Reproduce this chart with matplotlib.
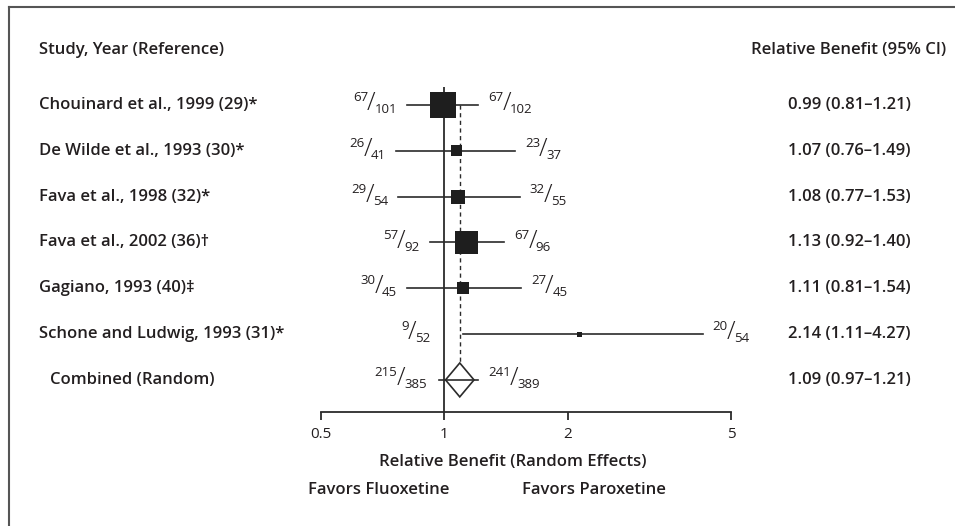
import numpy as np
import matplotlib
matplotlib.use("Agg")
import matplotlib.pyplot as plt
from matplotlib.lines import Line2D
from matplotlib.offsetbox import TextArea, HPacker, AnnotationBbox

# ---- data ----
studies = [
    "Chouinard et al., 1999 (29)*",
    "De Wilde et al., 1993 (30)*",
    "Fava et al., 1998 (32)*",
    "Fava et al., 2002 (36)\u2020",
    "Gagiano, 1993 (40)\u2021",
    "Schone and Ludwig, 1993 (31)*",
]
rb = [0.99, 1.07, 1.08, 1.13, 1.11, 2.14]
ci_lo = [0.81, 0.76, 0.77, 0.92, 0.81, 1.11]
ci_hi = [1.21, 1.49, 1.53, 1.40, 1.54, 4.27]
weights = [40.0, 7.2, 11.6, 31.3, 8.5, 1.5]
flu_events = [67, 26, 29, 57, 30, 9]
flu_total = [101, 41, 54, 92, 45, 52]
par_events = [67, 23, 32, 67, 27, 20]
par_total = [102, 37, 55, 96, 45, 54]

pooled_label = "Combined (Random)"
pooled_rb, pooled_lo, pooled_hi = 1.09, 0.97, 1.21
pooled_flu = (215, 385)
pooled_par = (241, 389)

xticks = [0.5, 1, 2, 5]
xtick_labels = ["0.5", "1", "2", "5"]

TXT = "#231f20"
LINE = "#2b2b2b"

plt.rcParams["font.family"] = ["Open Sans", "DejaVu Sans"]

fig = plt.figure(figsize=(9.55, 5.26), dpi=100)
W, H = 955, 526


def fx(px):
    return px / W


def fy(py):
    return 1 - py / H


# plot area: x log 0.5..5 at px 321..731, y from 87 (top) to 412 (axis)
ax = fig.add_axes([fx(321), fy(412), fx(731) - fx(321), fy(87) - fy(412)])
ax.set_xscale("log")
ax.set_xlim(0.5, 5)
ax.set_ylim(6.70, -0.39)
ax.patch.set_alpha(0)
for s in ["top", "right", "left"]:
    ax.spines[s].set_visible(False)
ax.spines["bottom"].set_color(LINE)
ax.spines["bottom"].set_linewidth(1.3)
ax.set_yticks([])
ax.set_xticks(xticks)
ax.set_xticklabels(xtick_labels)
ax.xaxis.set_minor_locator(matplotlib.ticker.NullLocator())
ax.tick_params(axis="x", direction="out", length=6, width=1.3, color=LINE,
               labelsize=11, labelcolor=TXT, pad=5)

# reference lines
ax.axvline(1, color=LINE, lw=1.3, zorder=1)
diamond_h = 0.37
ax.plot([pooled_rb, pooled_rb], [0, 6 - diamond_h], color=LINE, lw=1.0,
        ls=(0, (3, 2.5)), zorder=1)

ys = np.arange(len(studies))
for i, y in enumerate(ys):
    ax.plot([ci_lo[i], ci_hi[i]], [y, y], color=LINE, lw=1.2, zorder=2)
    side = 2.96 * np.sqrt(weights[i])
    ax.scatter([rb[i]], [y], marker="s", s=side ** 2, color="#1e1e1e",
               edgecolors="none", zorder=3)

# pooled diamond
yp = len(studies)
hw = 0.08
dx = [pooled_rb * np.exp(-hw), pooled_rb, pooled_rb * np.exp(hw), pooled_rb]
dy = [yp, yp - diamond_h, yp, yp + diamond_h]
ax.fill(dx, dy, facecolor="white", edgecolor=LINE, lw=1.2, zorder=3)
ax.plot([pooled_lo, pooled_hi], [yp, yp], color=LINE, lw=1.2, zorder=4)


def frac(num, den, size=9.5):
    top = TextArea(f"{num}\n", textprops=dict(fontsize=size, color=TXT,
                                              linespacing=0.9))
    sl = TextArea("/", textprops=dict(fontsize=size * 1.9, color=TXT,
                                      fontweight="light"))
    bot = TextArea(f"\n{den}", textprops=dict(fontsize=size, color=TXT,
                                              linespacing=0.9))
    return HPacker(children=[top, sl, bot], align="center", pad=0, sep=-0.8)


def put_frac(num, den, x, y, left):
    box = frac(num, den)
    if left:
        ab = AnnotationBbox(box, (x, y), xybox=(-7, 1), xycoords="data",
                            boxcoords="offset points", box_alignment=(1, 0.5),
                            frameon=False, pad=0)
    else:
        ab = AnnotationBbox(box, (x, y), xybox=(7, 1), xycoords="data",
                            boxcoords="offset points", box_alignment=(0, 0.5),
                            frameon=False, pad=0)
    ab.set_clip_on(False)
    ax.add_artist(ab)


for i, y in enumerate(ys):
    put_frac(flu_events[i], flu_total[i], min(ci_lo[i], 0.975), y, True)
    put_frac(par_events[i], par_total[i], ci_hi[i], y, False)
put_frac(pooled_flu[0], pooled_flu[1], pooled_lo * 0.985, yp, True)
put_frac(pooled_par[0], pooled_par[1], pooled_hi, yp, False)

# left / right text columns
lab_kw = dict(fontsize=12, color=TXT, fontweight="semibold", va="center")
fig.text(fx(39), fy(50), "Study, Year (Reference)", ha="left", **lab_kw)
fig.text(fx(849), fy(50), "Relative Benefit (95% CI)", ha="center", **lab_kw)
for i, y in enumerate(ys):
    ax.annotate(studies[i], xy=(fx(39), y), xycoords=("figure fraction", "data"),
                ha="left", **lab_kw)
    ax.annotate(f"{rb[i]:.2f} ({ci_lo[i]:.2f}\u2013{ci_hi[i]:.2f})",
                xy=(fx(849), y), xycoords=("figure fraction", "data"),
                ha="center", **lab_kw)
ax.annotate(pooled_label, xy=(fx(50), yp), xycoords=("figure fraction", "data"),
            ha="left", **lab_kw)
ax.annotate(f"{pooled_rb:.2f} ({pooled_lo:.2f}\u2013{pooled_hi:.2f})",
            xy=(fx(849), yp), xycoords=("figure fraction", "data"),
            ha="center", **lab_kw)

fig.text(fx(513), fy(462), "Relative Benefit (Random Effects)", ha="center", **lab_kw)
fig.text(fx(379), fy(490), "Favors Fluoxetine", ha="center", **lab_kw)
fig.text(fx(594), fy(490), "Favors Paroxetine", ha="center", **lab_kw)

# frame (top and left edges)
fig.add_artist(Line2D([fx(9), 1.0], [fy(7), fy(7)], color="#555555", lw=1.5,
                      transform=fig.transFigure))
fig.add_artist(Line2D([fx(9), fx(9)], [fy(7), 0.0], color="#555555", lw=1.5,
                      transform=fig.transFigure))

fig.savefig("out.png", dpi=100, facecolor="white")
